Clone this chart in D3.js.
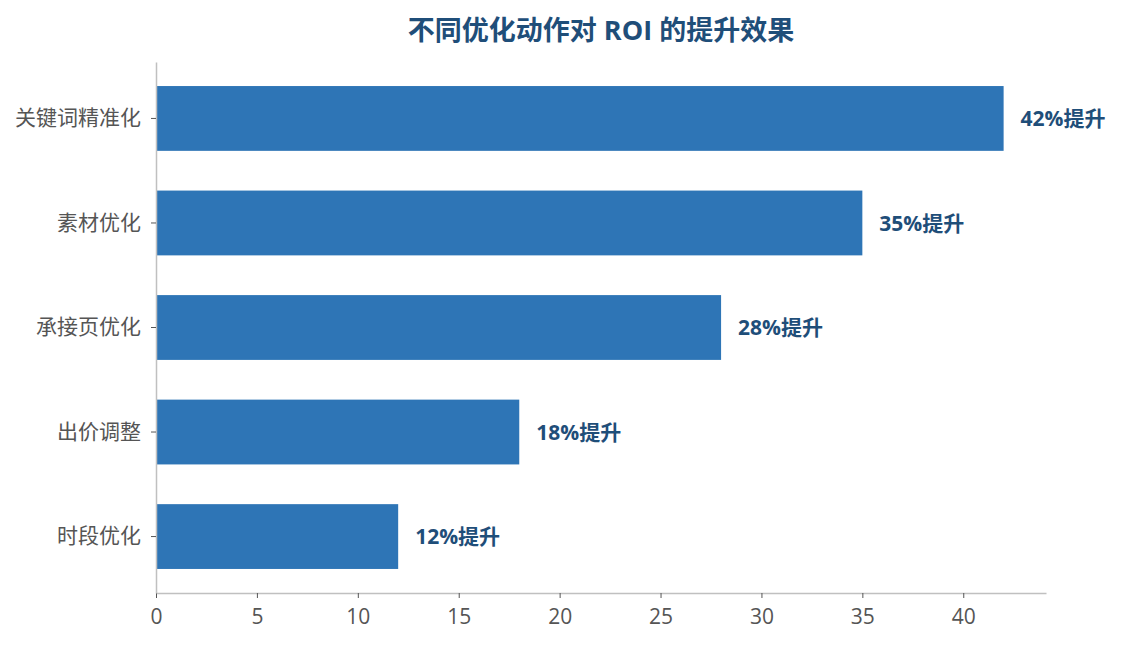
<!DOCTYPE html>
<html>
<head>
<meta charset="utf-8">
<script src="https://cdn.jsdelivr.net/npm/d3@7"></script>
<style>
  body { margin: 0; background: #fff; }
  text { font-family: "Open Sans", "Noto Sans CJK SC", sans-serif; }
</style>
</head>
<body>
<div class="chart"></div>
<script>
// data
const actions = ['关键词精准化', '素材优化', '承接页优化', '出价调整', '时段优化'];
const lift = [42, 35, 28, 18, 12];
const ticks = [0, 5, 10, 15, 20, 25, 30, 35, 40];
const title = '不同优化动作对 ROI 的提升效果';

const width = 1124;
const height = 645;
const margin = {top: 62, right: 78, bottom: 52, left: 156};

const svg = d3.select('.chart')
    .append('svg')
    .attr('width', width)
    .attr('height', height);

const x = d3.scaleLinear()
    .domain([0, d3.max(lift) * 1.05])
    .range([margin.left, width - margin.right]);

const y = d3.scaleBand()
    .domain(actions)
    .range([margin.top, height - margin.bottom])
    .paddingInner(0.38)
    .paddingOuter(0.23);

const rows = actions.map((a, i) => ({action: a, value: lift[i]}));

svg.append('text')
    .attr('x', 601)
    .attr('y', 40)
    .attr('text-anchor', 'middle')
    .attr('font-size', '27px')
    .attr('font-weight', 'bold')
    .attr('fill', '#1f4e79')
    .text(title);

svg.append('g')
    .selectAll('rect')
    .data(rows)
    .enter()
    .append('rect')
        .attr('x', x(0))
        .attr('y', d => y(d.action))
        .attr('width', d => x(d.value) - x(0))
        .attr('height', y.bandwidth())
        .attr('fill', '#2e75b6');

svg.append('g')
    .selectAll('text')
    .data(rows)
    .enter()
    .append('text')
        .attr('x', d => x(d.value) + 17)
        .attr('y', d => y(d.action) + y.bandwidth() / 2)
        .attr('dy', '0.36em')
        .attr('font-size', '21px')
        .attr('font-weight', 'bold')
        .attr('fill', '#1f4e79')
        .text(d => d.value + '%提升');

const xAxis = svg.append('g')
    .attr('transform', `translate(0,${height - margin.bottom})`)
    .call(d3.axisBottom(x).tickValues(ticks).tickSize(5).tickPadding(11).tickSizeOuter(0));

const yAxis = svg.append('g')
    .attr('transform', `translate(${margin.left},0)`)
    .call(d3.axisLeft(y).tickSize(5).tickPadding(10).tickSizeOuter(0));

[xAxis, yAxis].forEach(g => {
    g.select('.domain').attr('stroke', '#c0c0c0').attr('stroke-width', 1.5);
    g.selectAll('.tick line').attr('stroke', '#555');
    g.selectAll('.tick text')
        .attr('fill', '#555')
        .attr('font-size', '21px');
});
</script>
</body>
</html>
